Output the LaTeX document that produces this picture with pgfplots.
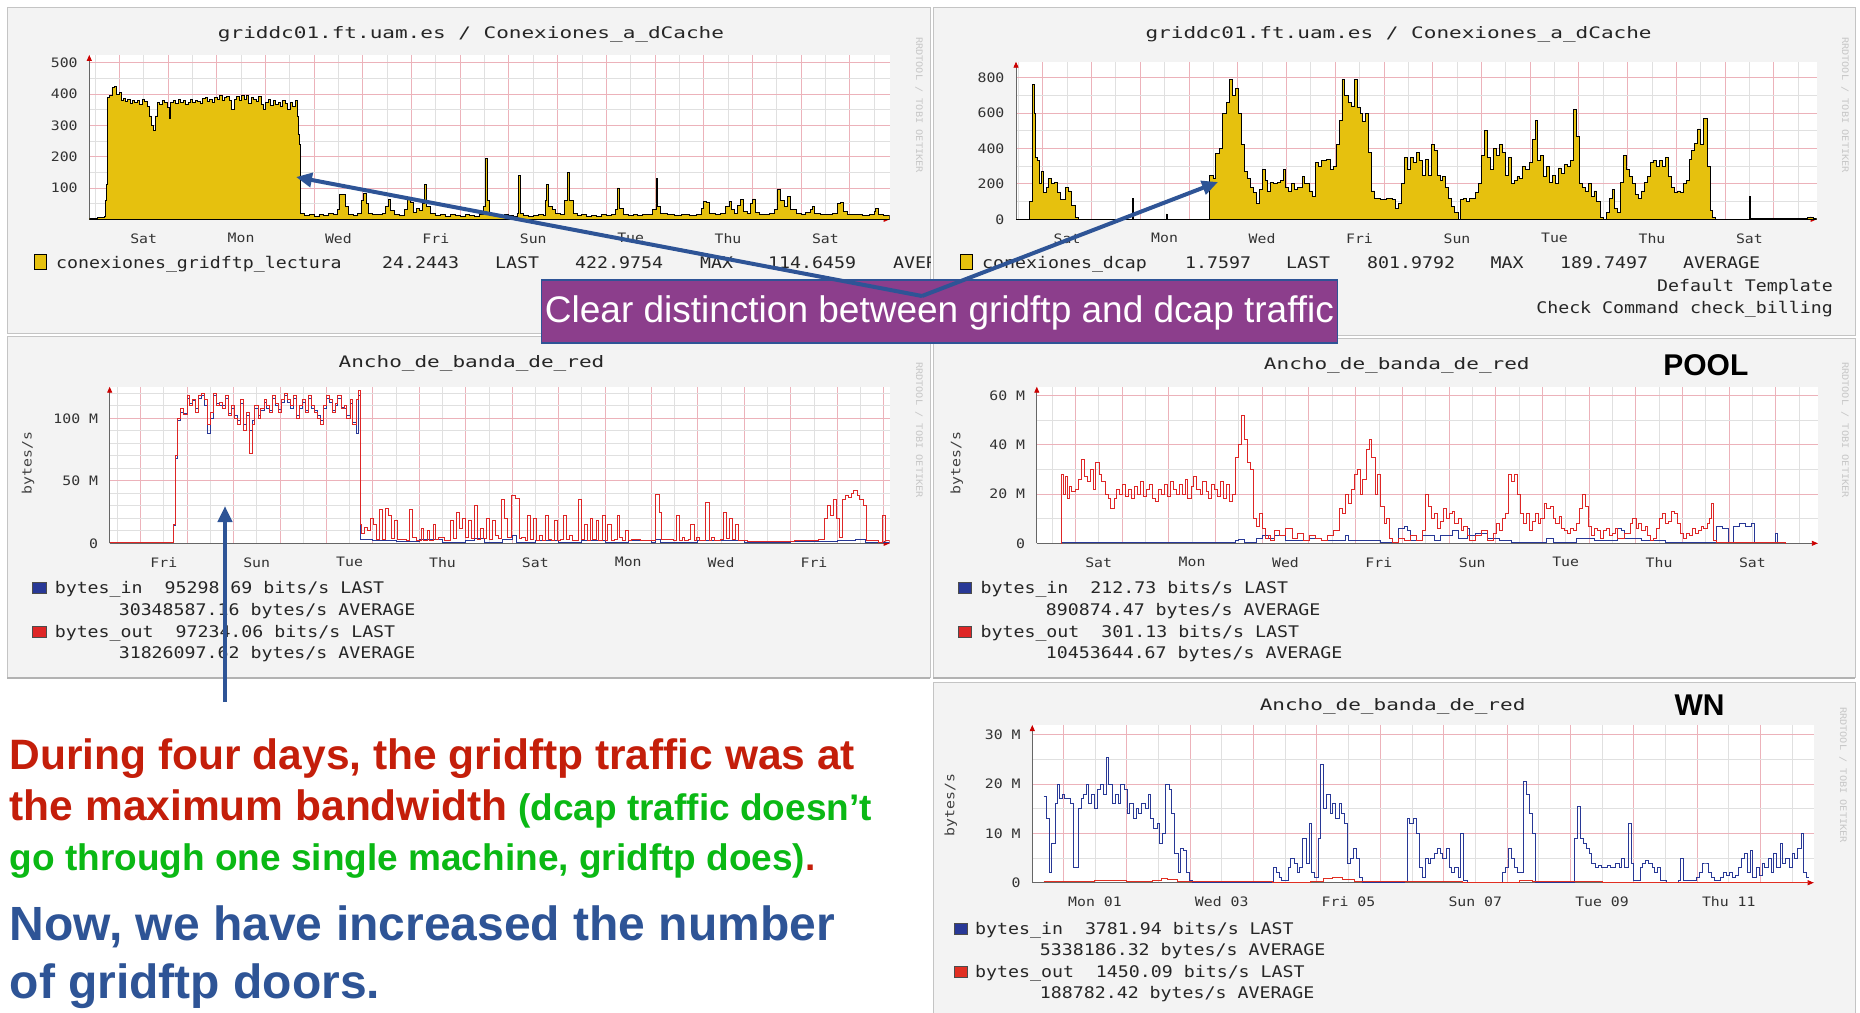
\documentclass[border=0pt]{standalone}
\usepackage{fontspec}
\setmainfont{Liberation Sans}
\newfontfamily\rrd[FakeStretch=1.14]{DejaVu Sans Mono}
\newfontfamily\rrdT[FakeStretch=1.33]{DejaVu Sans Mono}
\usepackage{pgfplots}
\pgfplotsset{compat=1.18}
\usetikzlibrary{arrows.meta}

\definecolor{rrdyellow}{RGB}{230,193,14}
\definecolor{gridpink}{RGB}{236,178,186}
\definecolor{gridgray}{RGB}{224,224,224}
\definecolor{rrdred}{RGB}{222,38,38}
\definecolor{rrdblue}{RGB}{40,56,150}
\definecolor{panelbg}{RGB}{243,243,243}
\definecolor{panelline}{RGB}{196,196,196}
\definecolor{boxpurple}{RGB}{140,62,140}
\definecolor{arrowblue}{RGB}{46,84,150}
\definecolor{txtred}{RGB}{196,30,10}
\definecolor{txtgreen}{RGB}{10,184,20}
\definecolor{txtblue}{RGB}{46,84,150}

\pgfplotsset{
  rrd/.style={
    scale only axis, anchor=south west,
    axis lines=left,
    axis line style={draw=black!60, line width=0.9pt, -{Triangle[length=6pt,width=5pt,color=red!80!black]}},
    axis background/.style={fill=white},
    grid=both,
    major grid style={draw=gridpink, line width=0.8pt},
    minor grid style={draw=gridgray, line width=0.7pt},
    tick style={draw=none},
    xticklabels={},
    ticklabel style={font=\rrd\fontsize{13}{15}\selectfont, text=black!80},
    yticklabel style={xshift=-6pt},
    extra x tick style={grid=none, xticklabel style={yshift=-8.5pt}},
    every axis plot/.append style={const plot, line width=1pt},
  },
}

\begin{document}
\begin{tikzpicture}
\useasboundingbox (0pt,0pt) rectangle (1860pt,-1012pt);
\fill[white] (0pt,0pt) rectangle (1860pt,-1012pt);

% panel backgrounds
\begin{scope}[x=1pt,y=1pt]
  \filldraw[fill=panelbg, draw=panelline, line width=1pt] (7,-7) rectangle (930,-333);
  \filldraw[fill=panelbg, draw=panelline, line width=1pt] (933,-7) rectangle (1855,-335);
  \filldraw[fill=panelbg, draw=panelline, line width=1pt] (7,-336) rectangle (930,-677);
  \filldraw[fill=panelbg, draw=panelline, line width=1pt] (933,-338) rectangle (1855,-677);
  \filldraw[fill=panelbg, draw=panelline, line width=1pt] (933,-682) rectangle (1855,-1014);
  \draw[black!30, line width=2.5pt] (7,-678) -- (930,-678);
  \draw[black!30, line width=2.5pt] (933,-678) -- (1855,-678);
\end{scope}

% griddc01 gridftp connections
\begin{axis}[rrd, at={(89.3pt,-219.3pt)}, width=800.4pt, height=164.4pt,
  xmin=-0.616, xmax=15.82, ymin=0, ymax=525,
  xtick={0,...,15}, minor xtick={-0.5,0.5,...,15.5},
  ytick={0,100,...,500}, yticklabels={,100,200,300,400,500}, minor ytick={50,150,...,450},
  extra x ticks={0.5,2.5,...,14.5}, extra x tick labels={Sat,Mon,Wed,Fri,Sun,Tue,Thu,Sat}]
\addplot[fill=rrdyellow, draw=black, line width=0.9pt] coordinates {
(-0.62,4) (-0.45,5) (-0.35,6) (-0.30,8) (-0.28,60) (-0.26,110) (-0.24,390) (-0.20,395) (-0.15,420) (-0.10,425) (-0.05,400) (0.00,405) (0.04,380) (0.08,385) (0.12,375) (0.17,382) (0.22,370) (0.27,378) (0.32,372) (0.37,380) (0.42,368) (0.47,383) (0.52,375) (0.57,360) (0.62,330) (0.66,300) (0.70,285) (0.74,330) (0.78,372) (0.83,368) (0.88,380) (0.93,372) (0.98,358) (1.02,322) (1.06,372) (1.11,378) (1.16,370) (1.21,382) (1.26,373) (1.31,379) (1.36,366) (1.41,374) (1.46,384) (1.51,372) (1.56,380) (1.61,377) (1.66,370) (1.71,385) (1.76,390) (1.81,376) (1.86,384) (1.91,372) (1.96,390) (2.01,383) (2.06,395) (2.11,378) (2.16,388) (2.21,392) (2.26,380) (2.31,350) (2.36,384) (2.41,392) (2.46,378) (2.51,395) (2.56,382) (2.61,396) (2.66,370) (2.71,388) (2.76,383) (2.81,376) (2.86,392) (2.91,368) (2.96,352) (3.01,372) (3.06,384) (3.11,362) (3.16,378) (3.21,366) (3.26,374) (3.31,360) (3.36,378) (3.41,370) (3.46,352) (3.51,372) (3.56,360) (3.61,378) (3.65,330) (3.68,270) (3.70,240) (3.72,18)
(3.80,12) (3.90,15) (4.00,10) (4.10,14) (4.20,12) (4.30,18) (4.40,16) (4.48,30) (4.52,78) (4.58,80) (4.64,40) (4.70,14) (4.80,12) (4.90,20) (4.97,60) (5.02,82) (5.07,50) (5.12,18) (5.20,14) (5.30,16) (5.40,20) (5.47,40) (5.52,62) (5.57,28) (5.65,16) (5.75,12) (5.85,30) (5.92,70) (5.97,55) (6.03,22) (6.10,35) (6.16,28) (6.22,50) (6.27,110) (6.31,40) (6.38,18) (6.50,12) (6.60,14) (6.70,10) (6.80,15) (6.90,12) (7.00,10) (7.10,14) (7.20,12) (7.30,10) (7.40,15) (7.48,40) (7.51,195) (7.55,60) (7.60,14) (7.70,12) (7.80,10) (7.90,14) (8.00,12) (8.10,10) (8.17,20) (8.20,140) (8.23,20) (8.30,12) (8.40,10) (8.50,12) (8.60,14) (8.70,12) (8.75,60) (8.78,110) (8.82,40) (8.90,30) (8.96,20) (9.05,15) (9.15,60) (9.20,150) (9.25,60) (9.32,20) (9.40,12) (9.50,15) (9.60,10) (9.70,12) (9.80,10) (9.90,14) (10.0,12) (10.10,15) (10.18,30) (10.23,100) (10.27,35) (10.35,15) (10.45,12) (10.55,14) (10.65,12) (10.75,16) (10.85,14) (10.95,30) (11.02,130) (11.06,40) (11.12,18) (11.25,14) (11.40,12) (11.55,15) (11.70,12) (11.85,14) (11.95,35) (12.0,58) (12.05,55) (12.12,20) (12.25,15) (12.35,18) (12.45,40) (12.52,58) (12.57,30) (12.63,20) (12.70,45) (12.76,62) (12.82,25) (12.90,18) (12.97,50) (13.01,65) (13.06,22) (13.15,16) (13.25,14) (13.35,18) (13.45,30) (13.52,95) (13.58,60) (13.66,40) (13.72,72) (13.78,30) (13.90,18) (14.00,14) (14.10,22) (14.20,30) (14.23,42) (14.28,18) (14.40,15) (14.55,14) (14.65,18) (14.75,50) (14.80,55) (14.86,25) (14.95,15) (15.10,14) (15.25,12) (15.40,14) (15.50,25) (15.53,35) (15.58,15) (15.70,12) (15.82,10)
} \closedcycle;
\end{axis}

% griddc01 dcap connections
\begin{axis}[rrd, at={(1016pt,-219.3pt)}, width=800.7pt, height=157.6pt,
  xmin=-0.548, xmax=15.88, ymin=0, ymax=890,
  xtick={0,...,15}, minor xtick={-0.5,0.5,...,15.5},
  ytick={0,200,...,800}, yticklabels={0,200,400,600,800}, minor ytick={100,300,500,700},
  extra x ticks={0.5,2.5,...,14.5}, extra x tick labels={Sat,Mon,Wed,Fri,Sun,Tue,Thu,Sat}]
\addplot[fill=rrdyellow, draw=black, line width=0.9pt] coordinates {
(-0.548,0) (-0.30,0) (-0.27,100) (-0.22,760) (-0.17,600) (-0.15,350) (-0.10,330) (-0.06,200) (-0.02,270) (0.02,150) (0.07,180) (0.12,230) (0.18,200) (0.24,210) (0.30,150) (0.36,110) (0.46,180) (0.52,160) (0.58,80) (0.67,10) (0.73,0) (1.80,0) (1.84,120) (1.87,0) (2.53,30) (2.55,0) (3.41,0) (3.43,250) (3.50,230) (3.55,370) (3.63,400) (3.69,600) (3.77,660) (3.83,790) (3.89,700) (3.95,740) (4.01,600) (4.08,420) (4.14,270) (4.20,230) (4.26,180) (4.32,150) (4.38,90) (4.44,170) (4.50,280) (4.56,220) (4.62,160) (4.68,210) (4.74,200) (4.81,210) (4.87,220) (4.93,280) (4.99,180) (5.05,160) (5.11,200) (5.17,170) (5.23,180) (5.33,240) (5.38,200) (5.47,160) (5.54,130) (5.60,320) (5.66,300) (5.72,330) (5.82,340) (5.90,280) (5.96,300) (6.02,420) (6.08,560) (6.14,790) (6.20,700) (6.27,660) (6.33,640) (6.39,790) (6.45,630) (6.51,600) (6.57,550) (6.63,600) (6.69,380) (6.75,160) (6.81,120) (6.93,110) (7.06,115) (7.18,110) (7.24,60) (7.30,90) (7.36,200) (7.42,350) (7.48,280) (7.54,350) (7.60,320) (7.66,380) (7.73,330) (7.79,250) (7.85,340) (7.91,250) (7.97,420) (8.03,390) (8.09,250) (8.15,220) (8.21,240) (8.27,180) (8.33,120) (8.39,70) (8.45,40) (8.52,0) (8.58,110) (8.64,120) (8.70,100) (8.76,120) (8.88,150) (8.94,200) (9.00,360) (9.06,500) (9.12,350) (9.18,280) (9.25,400) (9.31,360) (9.37,420) (9.43,380) (9.49,250) (9.55,350) (9.61,200) (9.67,220) (9.73,240) (9.79,230) (9.85,300) (9.91,280) (9.98,320) (10.04,450) (10.10,560) (10.16,330) (10.22,360) (10.28,240) (10.34,300) (10.40,210) (10.46,250) (10.52,200) (10.58,290) (10.64,260) (10.71,310) (10.77,300) (10.83,330) (10.89,620) (10.95,470) (11.01,200) (11.07,180) (11.13,160) (11.19,200) (11.25,130) (11.31,160) (11.37,100) (11.44,10) (11.50,0) (11.56,40) (11.62,120) (11.68,170) (11.74,60) (11.80,40) (11.86,210) (11.92,360) (11.98,280) (12.04,240) (12.10,200) (12.17,140) (12.23,120) (12.29,160) (12.35,210) (12.41,240) (12.47,320) (12.53,330) (12.59,300) (12.65,330) (12.71,300) (12.77,350) (12.83,240) (12.90,180) (12.96,150) (13.02,160) (13.08,150) (13.14,200) (13.20,220) (13.26,340) (13.32,390) (13.38,430) (13.44,510) (13.50,420) (13.56,570) (13.63,300) (13.69,50) (13.75,10) (13.81,0) (14.48,0) (14.50,130) (14.53,5) (15.69,10) (15.82,5) (15.88,5)
} \closedcycle;
\end{axis}

% bandwidth, gridftp door
\begin{axis}[rrd, at={(109.7pt,-543.3pt)}, width=780pt, height=156.6pt,
  xmin=-0.665, xmax=16.13, ymin=0, ymax=125.3,
  xtick={0,...,16}, minor xtick={-0.5,0.5,...,16.5},
  ytick={0,50,100}, yticklabels={0,50 M,100 M}, minor ytick={10,20,30,40,60,70,80,90,110,120},
  extra x ticks={0.5,2.5,...,14.5}, extra x tick labels={Fri,Sun,Tue,Thu,Sat,Mon,Wed,Fri}]
\addplot[rrdblue] coordinates {
(-0.66,0.3) (0.68,0.3) (0.70,14) (0.75,68) (0.80,98) (0.87,105) (0.93,104) (1.00,116) (1.06,112) (1.12,114) (1.19,108) (1.25,116) (1.32,118) (1.38,110) (1.44,88) (1.51,100) (1.57,118) (1.63,112) (1.70,110) (1.76,110) (1.83,116) (1.89,104) (1.95,108) (2.02,102) (2.08,98) (2.15,112) (2.21,95) (2.27,102) (2.34,90) (2.40,98) (2.46,108) (2.53,102) (2.59,106) (2.66,113) (2.72,108) (2.78,106) (2.85,116) (2.91,110) (2.98,107) (3.04,113) (3.10,118) (3.17,113) (3.23,108) (3.30,116) (3.36,102) (3.42,108) (3.49,113) (3.55,106) (3.61,116) (3.68,108) (3.74,106) (3.81,102) (3.87,98) (3.93,108) (4.00,116) (4.06,113) (4.13,106) (4.19,110) (4.25,116) (4.32,109) (4.38,108) (4.44,102) (4.51,112) (4.57,97) (4.64,88) (4.70,118) (4.74,3) (5.0,2) (5.5,1.5) (6.0,3) (6.5,1) (7.0,2) (7.2,4) (7.4,1) (7.8,3) (8.0,6) (8.1,1) (8.5,2) (9.0,1) (9.5,2) (10.0,1) (10.5,2) (11.0,1) (11.09,3) (11.2,1) (12.0,2) (13.0,1) (14.0,1.5) (15.0,2) (15.4,3) (15.6,1) (16.13,0.8)
};
\addplot[rrdred] coordinates {
(-0.66,0.3) (0.00,0.3) (0.04,1) (0.10,0.3) (0.68,0.3) (0.70,15) (0.75,70) (0.80,100) (0.87,108) (0.93,103) (1.00,118) (1.06,110) (1.12,115) (1.19,105) (1.25,118) (1.32,120) (1.38,115) (1.44,95) (1.51,105) (1.57,120) (1.63,110) (1.70,113) (1.76,108) (1.83,118) (1.89,102) (1.95,110) (2.02,100) (2.08,95) (2.15,115) (2.21,90) (2.27,105) (2.34,72) (2.40,95) (2.46,110) (2.53,100) (2.59,108) (2.66,115) (2.72,110) (2.78,105) (2.85,118) (2.91,112) (2.98,105) (3.04,115) (3.10,120) (3.17,115) (3.23,110) (3.30,118) (3.36,100) (3.42,110) (3.49,115) (3.55,105) (3.61,118) (3.68,110) (3.74,105) (3.81,100) (3.87,95) (3.93,110) (4.00,118) (4.06,115) (4.13,105) (4.19,112) (4.25,118) (4.32,108) (4.38,110) (4.44,100) (4.51,115) (4.57,95) (4.64,115) (4.70,122) (4.74,15) (4.76,8) (4.83,13) (4.89,10) (4.96,20) (5.02,15) (5.08,3) (5.15,27) (5.21,3) (5.27,28) (5.34,22) (5.40,4) (5.47,18) (5.53,3) (5.72,2) (5.79,27) (5.85,5) (5.95,2) (6.04,12) (6.10,2) (6.17,10) (6.23,2) (6.30,15) (6.36,3) (6.42,5) (6.55,2) (6.68,18) (6.74,4) (6.81,25) (6.87,12) (6.93,20) (7.00,5) (7.06,18) (7.12,4) (7.19,30) (7.25,3) (7.32,12) (7.38,4) (7.45,20) (7.51,3) (7.57,18) (7.64,6) (7.70,4) (7.77,35) (7.83,20) (7.89,5) (7.98,38) (8.08,36) (8.15,4) (8.21,5) (8.28,2) (8.34,22) (8.40,3) (8.47,20) (8.53,2) (8.60,6) (8.66,2) (8.72,22) (8.79,3) (8.85,2) (8.91,18) (8.98,2) (9.05,3) (9.11,22) (9.17,3) (9.23,6) (9.30,2) (9.43,35) (9.49,3) (9.55,15) (9.62,2) (9.68,20) (9.74,3) (9.81,18) (9.87,2) (9.94,22) (10.00,2) (10.06,15) (10.13,2) (10.20,3) (10.26,22) (10.32,5) (10.38,2) (10.45,10) (10.51,2) (10.57,3) (10.77,2) (11.02,2) (11.09,39) (11.17,25) (11.22,3) (11.47,2) (11.53,22) (11.60,2) (11.66,5) (11.72,2) (11.79,3) (11.85,15) (11.92,2) (11.98,5) (12.04,2) (12.17,33) (12.24,2) (12.30,5) (12.36,2) (12.49,3) (12.55,25) (12.62,4) (12.68,20) (12.74,3) (12.81,15) (12.87,2) (13.07,1.5) (13.58,1.5) (14.09,2) (14.60,3) (14.73,20) (14.79,30) (14.85,22) (14.92,35) (14.98,20) (15.04,5) (15.11,35) (15.17,38) (15.24,37) (15.30,40) (15.36,42) (15.43,38) (15.49,35) (15.56,30) (15.62,2) (15.88,1) (15.98,22) (16.04,2) (16.13,1)
};
\end{axis}

% bandwidth, POOL
\begin{axis}[rrd, at={(1036.8pt,-543.3pt)}, width=781pt, height=156.6pt,
  xmin=-0.825, xmax=15.9, ymin=0, ymax=63.6,
  xtick={0,...,15}, minor xtick={-0.5,0.5,...,15.5},
  ytick={0,20,40,60}, yticklabels={0,20 M,40 M,60 M}, minor ytick={10,30,50},
  extra x ticks={0.5,2.5,...,14.5}, extra x tick labels={Sat,Mon,Wed,Fri,Sun,Tue,Thu,Sat}]
\addplot[rrdblue] coordinates {
(-0.30,0) (-0.29,0.3) (3.36,0.3) (3.43,1) (3.49,1.5) (3.62,0.5) (3.87,2) (4.00,3) (4.13,2) (4.26,3) (4.51,1) (5.02,2) (5.27,1) (5.78,3) (5.85,1) (6.29,1) (6.54,0.5) (6.92,6) (7.05,7) (7.12,5) (7.18,1) (7.43,3) (7.69,1) (7.81,3) (8.07,5) (8.20,2) (8.39,6) (8.45,3) (8.58,4) (8.83,2) (9.09,1) (9.34,0.5) (10.10,2) (10.23,0.5) (10.74,2) (11.12,1) (11.62,6) (11.69,5) (11.75,2) (12.13,1) (12.64,0.5) (13.72,7) (13.85,6) (13.98,0.5) (14.10,7) (14.23,8) (14.36,7) (14.49,8) (14.55,0.5) (14.93,0.5) (15.0,4) (15.03,0.3) (15.05,0.3)
};
\addplot[rrdred] coordinates {
(-0.30,0) (-0.29,28) (-0.25,20) (-0.21,27) (-0.17,18) (-0.13,23) (-0.08,21) (0.00,22) (0.06,26) (0.13,34) (0.19,27) (0.25,25) (0.32,30) (0.38,22) (0.44,33) (0.51,28) (0.57,25) (0.64,20) (0.70,18) (0.76,14) (0.83,18) (0.89,22) (0.95,20) (1.02,24) (1.08,19) (1.14,22) (1.21,18) (1.27,23) (1.33,20) (1.40,25) (1.46,19) (1.52,22) (1.59,24) (1.65,18) (1.72,17) (1.78,22) (1.84,20) (1.91,24) (1.97,19) (2.03,25) (2.10,22) (2.16,20) (2.22,24) (2.29,20) (2.35,26) (2.41,18) (2.48,23) (2.54,27) (2.60,22) (2.67,20) (2.73,25) (2.80,21) (2.86,18) (2.92,24) (2.99,22) (3.05,19) (3.11,25) (3.18,18) (3.24,24) (3.30,17) (3.37,20) (3.43,35) (3.49,40) (3.56,52) (3.62,42) (3.68,33) (3.75,30) (3.81,10) (3.87,7) (3.94,12) (4.00,6) (4.07,2) (4.13,3) (4.19,1) (4.26,5) (4.38,3) (4.51,6) (4.64,2) (4.76,4) (4.89,1) (5.02,3) (5.15,2) (5.27,1) (5.40,3) (5.53,5) (5.66,14) (5.72,12) (5.78,20) (5.85,16) (5.91,22) (5.97,28) (6.04,30) (6.10,20) (6.16,26) (6.23,38) (6.29,42) (6.35,35) (6.42,20) (6.48,28) (6.54,15) (6.61,8) (6.67,10) (6.73,2) (6.80,0.5) (6.92,2) (7.05,1) (7.18,3) (7.31,1) (7.43,5) (7.50,20) (7.56,15) (7.62,10) (7.69,12) (7.75,6) (7.81,9) (7.88,14) (7.94,10) (8.01,12) (8.07,13) (8.13,8) (8.20,10) (8.26,5) (8.32,7) (8.39,3) (8.45,1) (8.58,3) (8.70,5) (8.83,1) (8.96,4) (9.02,8) (9.09,5) (9.15,10) (9.21,12) (9.28,28) (9.34,25) (9.40,28) (9.47,20) (9.53,12) (9.59,8) (9.66,12) (9.72,5) (9.78,9) (9.85,12) (9.91,8) (9.97,10) (10.04,16) (10.10,14) (10.17,15) (10.23,10) (10.29,8) (10.36,11) (10.42,6) (10.48,5) (10.55,4) (10.61,6) (10.67,5) (10.74,8) (10.80,14) (10.86,20) (10.93,15) (10.99,7) (11.05,3) (11.12,6) (11.18,5) (11.24,2) (11.31,5) (11.37,6) (11.43,3) (11.50,4) (11.56,6) (11.62,2) (11.75,4) (11.88,8) (11.94,10) (12.01,6) (12.07,8) (12.13,5) (12.20,7) (12.26,3) (12.32,1) (12.39,2) (12.45,6) (12.51,10) (12.58,12) (12.64,8) (12.70,9) (12.77,13) (12.83,12) (12.89,8) (12.96,4) (13.02,2) (13.08,4) (13.15,3) (13.21,6) (13.27,4) (13.34,5) (13.40,7) (13.46,6) (13.53,8) (13.59,10) (13.63,16) (13.67,1) (13.74,0.3) (15.20,0.2)
};
\end{axis}

% bandwidth, WN
\begin{axis}[rrd, at={(1032.3pt,-882.7pt)}, width=781.4pt, height=157.7pt,
  xmin=-0.489, xmax=11.84, ymin=0, ymax=32,
  xtick={0,...,11}, minor xtick={-0.5,0.5,...,11.5},
  ytick={0,10,20,30}, yticklabels={0,10 M,20 M,30 M}, minor ytick={5,15,25},
  extra x ticks={0.5,2.5,...,10.5}, extra x tick labels={Mon 01,Wed 03,Fri 05,Sun 07,Tue 09,Thu 11}]
\addplot[rrdblue] coordinates {
(-0.31,17.5) (-0.26,13) (-0.22,2) (-0.19,8) (-0.15,8) (-0.12,16) (-0.09,20) (-0.06,17) (-0.02,18) (0.02,17) (0.07,17) (0.11,16) (0.16,3) (0.21,3) (0.24,15) (0.28,17) (0.32,18) (0.36,20) (0.40,16) (0.44,18) (0.49,15) (0.54,19) (0.58,20) (0.63,18) (0.68,25.5) (0.72,20) (0.77,16) (0.82,18) (0.87,16) (0.91,20) (0.96,19) (1.01,14) (1.05,16) (1.10,13) (1.15,15) (1.19,14) (1.24,16) (1.29,15) (1.34,18) (1.38,13) (1.43,11) (1.48,12) (1.52,8) (1.57,10) (1.62,20) (1.67,19) (1.71,14) (1.76,6) (1.81,2) (1.85,7) (1.90,6.5) (1.95,2) (1.99,0.5) (2.04,0) (3.31,0) (3.32,3) (3.36,2) (3.41,1) (3.45,0.5) (3.55,3) (3.59,5) (3.64,4) (3.69,2) (3.73,3) (3.78,9) (3.83,4) (3.88,12) (3.92,2) (3.97,1) (4.02,9) (4.06,24) (4.11,15) (4.16,18) (4.21,14) (4.25,16) (4.30,13) (4.35,16) (4.39,14) (4.44,12) (4.49,4) (4.53,5) (4.58,7) (4.63,5) (4.68,1) (4.72,0) (5.38,0.3) (5.43,13) (5.47,12) (5.52,13) (5.57,10) (5.62,3) (5.66,1) (5.71,5) (5.76,4) (5.80,5) (5.85,6) (5.90,7) (5.95,6) (5.99,5) (6.04,7) (6.09,3) (6.13,2) (6.18,3) (6.23,1) (6.27,10) (6.32,0.5) (6.37,0) (6.89,0) (6.93,2) (6.98,3) (7.03,7) (7.07,5) (7.12,3) (7.17,2) (7.26,20.5) (7.31,18) (7.36,14) (7.40,10) (7.45,0) (8.02,0) (8.06,9) (8.11,15.5) (8.16,9) (8.20,8) (8.25,7) (8.30,6) (8.34,4) (8.39,3) (8.44,3.5) (8.49,3) (8.53,3) (8.58,3.5) (8.63,3) (8.67,3) (8.72,4) (8.77,3) (8.81,5) (8.86,3) (8.91,12) (8.96,4) (9.00,0.5) (9.10,3) (9.14,4) (9.19,4.5) (9.24,4) (9.29,3) (9.33,2) (9.38,3) (9.43,0.5) (9.52,0) (9.71,0.5) (9.74,5) (9.78,0.5) (9.94,0.5) (9.99,1) (10.04,2) (10.08,4) (10.13,4) (10.18,2) (10.23,1) (10.27,0.5) (10.37,1) (10.41,2) (10.46,1.5) (10.51,2) (10.56,1) (10.60,1.5) (10.65,3) (10.70,5) (10.74,6) (10.79,2) (10.84,6.5) (10.88,1) (10.93,3) (10.98,1.5) (11.03,4) (11.07,3) (11.12,5) (11.17,2) (11.21,6) (11.26,3) (11.31,8) (11.35,4) (11.40,5) (11.45,3) (11.50,6) (11.54,5) (11.59,7) (11.64,10) (11.68,2) (11.73,1) (11.76,1)
};
\addplot[rrdred!90!orange] coordinates {
(-0.31,0.3) (0.5,0.4) (1.0,0.3) (1.4,0.5) (1.55,0.9) (1.65,0.6) (1.8,0.3) (2.0,0.2) (3.3,0.1) (3.9,0.3) (4.1,0.8) (4.25,1.0) (4.4,0.6) (4.6,0.2) (5.4,0.2) (6.3,0.1) (7.2,0.4) (7.4,0.2) (8.1,0.3) (8.5,0.1) (11.76,0.1)
};
\end{axis}

\begin{scope}[x=1pt,y=1pt]
  % faint vertical credit strings
  \foreach \cx/\cy in {919/-105, 1845/-105, 919/-430, 1845/-430, 1843/-775}
    \node[rotate=-90, text=black!22, font=\rrd\fontsize{9}{10}\selectfont] at (\cx,\cy) {RRDTOOL / TOBI OETIKER};

  % titles
  \node[anchor=base, font=\rrdT\fontsize{15.8}{18}\selectfont, text=black!85] at (471,-38) {griddc01.ft.uam.es / Conexiones\_a\_dCache};
  \node[anchor=base, font=\rrdT\fontsize{15.8}{18}\selectfont, text=black!85] at (1398.6,-38) {griddc01.ft.uam.es / Conexiones\_a\_dCache};
  \node[anchor=base, font=\rrdT\fontsize{15.8}{18}\selectfont, text=black!85] at (471.5,-367.7) {Ancho\_de\_banda\_de\_red};
  \node[anchor=base, font=\rrdT\fontsize{15.8}{18}\selectfont, text=black!85] at (1396.8,-369.3) {Ancho\_de\_banda\_de\_red};
  \node[anchor=base, font=\rrdT\fontsize{15.8}{18}\selectfont, text=black!85] at (1392.6,-710) {Ancho\_de\_banda\_de\_red};
  \node[anchor=base, font=\fontsize{30}{34}\selectfont\bfseries] at (1705.8,-375) {POOL};
  \node[anchor=base, font=\fontsize{30}{34}\selectfont\bfseries] at (1699.6,-715) {WN};

  % y labels
  \node[rotate=90, font=\rrd\fontsize{13}{15}\selectfont, text=black!75] at (28,-463) {bytes/s};
  \node[rotate=90, font=\rrd\fontsize{13}{15}\selectfont, text=black!75] at (956.7,-463) {bytes/s};
  \node[rotate=90, font=\rrd\fontsize{13}{15}\selectfont, text=black!75] at (950.8,-805) {bytes/s};

  % legend, panel 1
  \begin{scope}
    \clip (7,-240) rectangle (930,-300);
    \filldraw[fill=rrdyellow, draw=black, line width=1pt] (34,-254) rectangle (46,-269);
    \foreach \lx/\lt in {56/conexiones\_gridftp\_lectura, 382/24.2443, 495/LAST, 575/422.9754, 700/MAX, 768/114.6459, 893/AVERAGE}
      \node[anchor=base west, inner sep=0, font=\rrd\fontsize{16}{18}\selectfont, text=black!85] at (\lx,-268) {\lt};
  \end{scope}
  % legend, panel 2
  \filldraw[fill=rrdyellow, draw=black, line width=1pt] (960,-254) rectangle (972.7,-269);
  \foreach \lx/\lt in {982/conexiones\_dcap, 1185/1.7597, 1286/LAST, 1367/801.9792, 1490.5/MAX, 1560/189.7497, 1683/AVERAGE}
    \node[anchor=base west, inner sep=0, font=\rrd\fontsize{16}{18}\selectfont, text=black!85] at (\lx,-268) {\lt};
  \node[anchor=base east, inner sep=0, font=\rrd\fontsize{16}{18}\selectfont, text=black!85] at (1833,-291) {Default Template};
  \node[anchor=base east, inner sep=0, font=\rrd\fontsize{16}{18}\selectfont, text=black!85] at (1833,-313) {Check Command check\_billing};

  % legend, panel 3
  \filldraw[fill=rrdblue, draw=black!70] (32.6,-582) rectangle (46.3,-593.3);
  \filldraw[fill=rrdred, draw=black!70] (32.6,-626) rectangle (46.3,-637.3);
  \begin{scope}[every node/.style={anchor=base west, inner sep=0, font=\rrd\fontsize{16}{18}\selectfont, text=black!85}]
    \node at (54.6,-593.3) {bytes\_in~~95298.69 bits/s LAST};
    \node at (118.6,-615) {30348587.16 bytes/s AVERAGE};
    \node at (54.6,-637.3) {bytes\_out~~97234.06 bits/s LAST};
    \node at (118.6,-658.3) {31826097.62 bytes/s AVERAGE};
    % legend, panel 4
    \node at (980.4,-593.3) {bytes\_in~~212.73 bits/s LAST};
    \node at (1045.7,-615) {890874.47 bytes/s AVERAGE};
    \node at (980.4,-637.3) {bytes\_out~~301.13 bits/s LAST};
    \node at (1045.7,-658.3) {10453644.67 bytes/s AVERAGE};
    % legend, panel 5
    \node at (975,-934) {bytes\_in~~3781.94 bits/s LAST};
    \node at (1039.7,-955) {5338186.32 bytes/s AVERAGE};
    \node at (975,-977.3) {bytes\_out~~1450.09 bits/s LAST};
    \node at (1039.7,-998.3) {188782.42 bytes/s AVERAGE};
  \end{scope}
  \filldraw[fill=rrdblue, draw=black!70] (958.5,-582) rectangle (971.5,-593.3);
  \filldraw[fill=rrdred, draw=black!70] (958.5,-626) rectangle (971.5,-637.3);
  \filldraw[fill=rrdblue, draw=black!70] (953.7,-923) rectangle (966.8,-934);
  \filldraw[fill=rrdred!90!orange, draw=black!70] (953.7,-966) rectangle (966.8,-977.3);

  % callout box and arrows
  \filldraw[fill=boxpurple, draw=arrowblue, line width=1.5pt] (541.5,-280) rectangle (1337.5,-343);
  \node[anchor=base, inner sep=0, text=white, font=\fontsize{37}{42}\selectfont] at (939.5,-322) {Clear distinction between gridftp and dcap traffic};
  \draw[arrowblue, line width=4pt, -{Triangle[length=16pt,width=14pt]}] (922,-296) -- (296,-177);
  \draw[arrowblue, line width=4pt, -{Triangle[length=16pt,width=14pt]}] (922,-296) -- (1218,-182);
  \draw[arrowblue, line width=4pt, -{Triangle[length=16pt,width=14pt]}] (225,-702) -- (225,-506);

  % slide text
  \node[anchor=base west, inner sep=0, text=txtred, font=\fontsize{42.5}{50}\selectfont\bfseries] at (9.5,-769.3) {During four days, the gridftp traffic was at};
  \node[anchor=base west, inner sep=0, font=\bfseries] at (9.5,-820) {{\fontsize{42.5}{50}\selectfont\color{txtred}the maximum bandwidth}{\fontsize{37}{44}\selectfont\color{txtgreen}\ (dcap traffic doesn’t}};
  \node[anchor=base west, inner sep=0, font=\fontsize{37}{44}\selectfont\bfseries] at (9.5,-870) {{\color{txtgreen}go through one single machine, gridftp does)}{\color{txtred}.}};
  \node[anchor=base west, inner sep=0, text=txtblue, font=\fontsize{48}{56}\selectfont\bfseries] at (9.5,-940) {Now, we have increased the number};
  \node[anchor=base west, inner sep=0, text=txtblue, font=\fontsize{48}{56}\selectfont\bfseries] at (9.5,-998) {of gridftp doors.};
\end{scope}
\end{tikzpicture}
\end{document}
